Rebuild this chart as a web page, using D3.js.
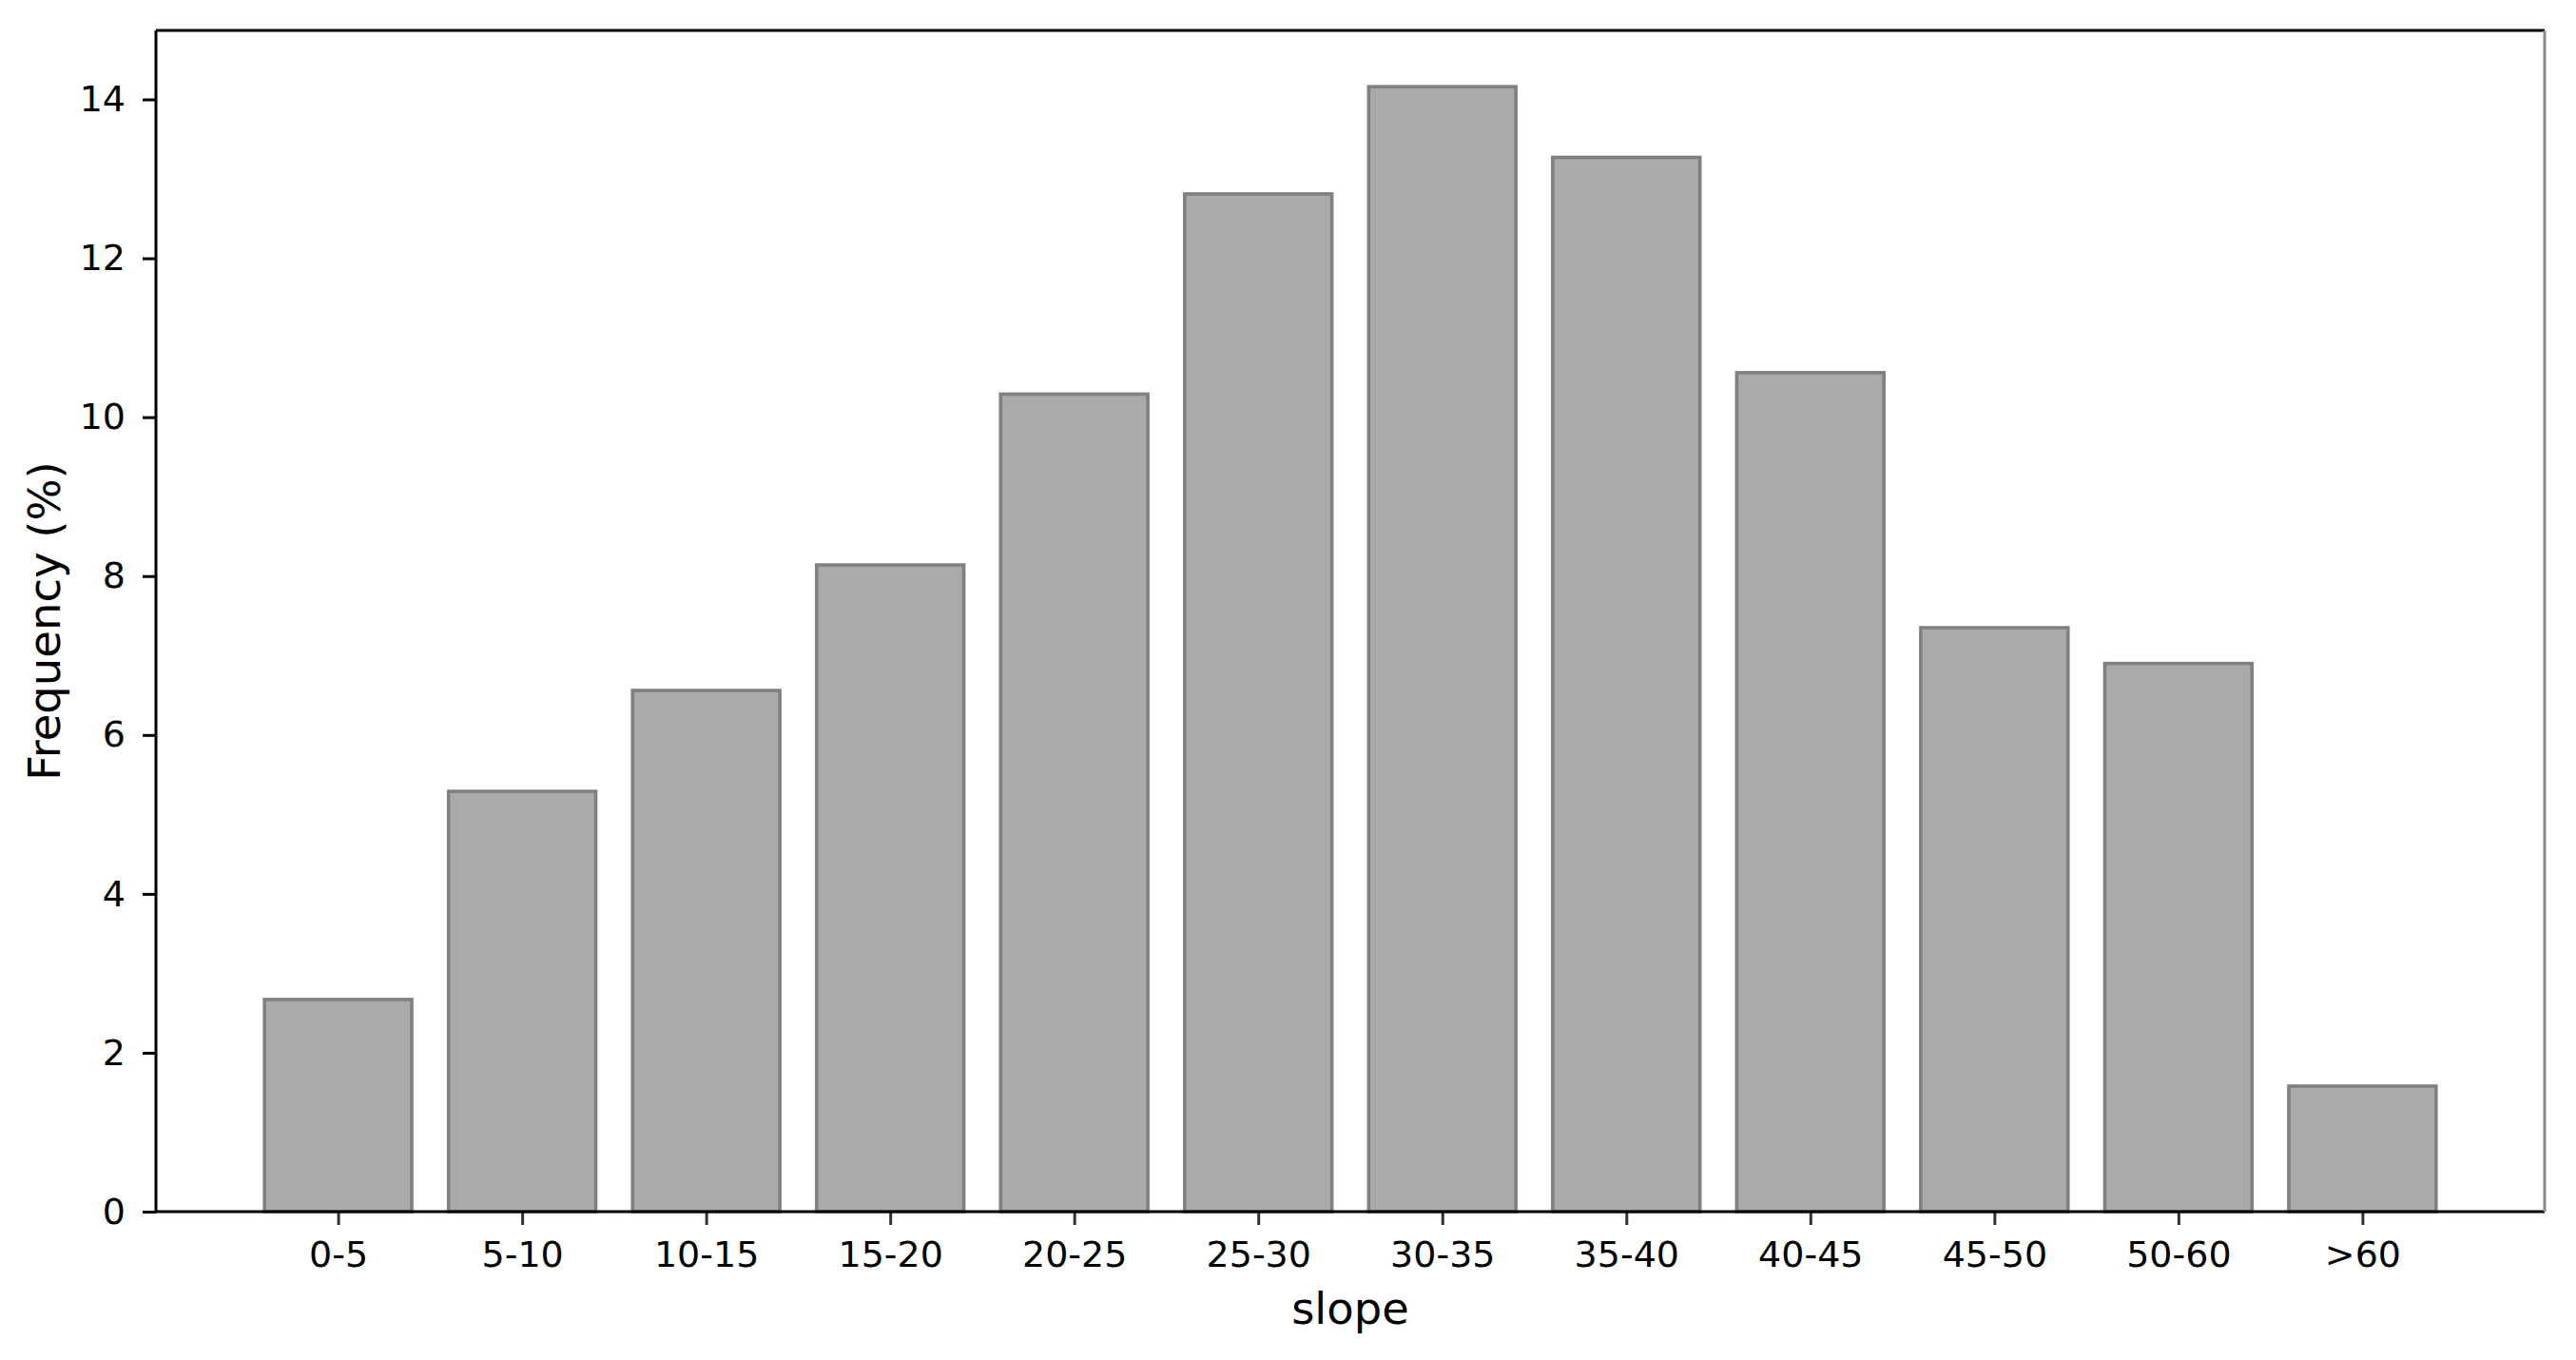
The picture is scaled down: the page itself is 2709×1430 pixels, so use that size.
<!DOCTYPE html>
<html>
<head>
<meta charset="utf-8">
<script src="https://cdn.jsdelivr.net/npm/d3@7/dist/d3.min.js"></script>
<style>
  html, body { margin: 0; padding: 0; background: #fff; }
  svg { display: block; }
  text { font-family: "DejaVu Sans", sans-serif; fill: #000; }
</style>
</head>
<body>
<svg id="chart" width="2709" height="1430"></svg>
<script>
const categories = ["0-5", "5-10", "10-15", "15-20", "20-25", "25-30", "30-35", "35-40", "40-45", "45-50", "50-60", ">60"];
const frequency = [2.67, 5.29, 6.56, 8.14, 10.29, 12.81, 14.16, 13.27, 10.56, 7.35, 6.90, 1.58];
const yTicks = [0, 2, 4, 6, 8, 10, 12, 14];
const xLabel = "slope";
const yLabel = "Frequency (%)";

const W = 2709, H = 1430;
const m = { left: 164, right: W - 2676, top: 32, bottom: H - 1274 };
const iw = W - m.left - m.right, ih = H - m.top - m.bottom;

const svg = d3.select("#chart");
const g = svg.append("g").attr("transform", `translate(${m.left},${m.top})`);

// linear x scale (matplotlib style: bar width 0.8, 5% margins)
const n = categories.length;
const span = (n - 1) + 0.8;
const pad = span * 0.05;
const x = d3.scaleLinear().domain([-0.4 - pad, n - 1 + 0.4 + pad]).range([0, iw]);
const yMax = d3.max(frequency) * 1.05;
const y = d3.scaleLinear().domain([0, yMax]).range([ih, 0]);

// bars
g.selectAll("rect.bar")
  .data(frequency)
  .join("rect")
  .attr("class", "bar")
  .attr("x", (d, i) => x(i - 0.4))
  .attr("width", (d, i) => x(i + 0.4) - x(i - 0.4))
  .attr("y", d => y(d))
  .attr("height", d => y(0) - y(d))
  .attr("fill", "#aaaaaa")
  .attr("stroke", "#808080")
  .attr("stroke-width", 3.6);

// axes
const fs = 38;
const xAxis = d3.axisBottom(x)
  .tickValues(d3.range(n))
  .tickFormat(i => categories[i])
  .tickSize(14).tickSizeOuter(0).tickPadding(17);
const gx = g.append("g").attr("transform", `translate(0,${ih})`).call(xAxis);
gx.select(".domain").remove();
gx.selectAll(".tick line").attr("stroke", "#333").attr("stroke-width", 3);
gx.selectAll(".tick text").attr("font-size", fs).attr("font-family", "DejaVu Sans").attr("fill", "#000");

const yAxis = d3.axisLeft(y)
  .tickValues(yTicks)
  .tickFormat(d3.format("d"))
  .tickSize(14).tickSizeOuter(0).tickPadding(18);
const gy = g.append("g").call(yAxis);
gy.select(".domain").remove();
gy.selectAll(".tick line").attr("stroke", "#000").attr("stroke-width", 3);
gy.selectAll(".tick text").attr("font-size", fs).attr("font-family", "DejaVu Sans").attr("fill", "#000");

// spines
const sw = 3;
g.append("line").attr("x1", 0).attr("x2", iw).attr("y1", 0).attr("y2", 0).attr("stroke", "#000").attr("stroke-width", sw);
g.append("line").attr("x1", 0).attr("x2", iw).attr("y1", ih).attr("y2", ih).attr("stroke", "#000").attr("stroke-width", sw);
g.append("line").attr("x1", 0).attr("x2", 0).attr("y1", 0).attr("y2", ih).attr("stroke", "#000").attr("stroke-width", sw);
g.append("line").attr("x1", iw).attr("x2", iw).attr("y1", 0).attr("y2", ih).attr("stroke", "#8a8a8a").attr("stroke-width", sw);

// labels
svg.append("text")
  .attr("x", m.left + iw / 2).attr("y", 1392)
  .attr("text-anchor", "middle")
  .attr("font-size", 46.5)
  .text(xLabel);

svg.append("text")
  .attr("transform", `translate(63,${m.top + ih / 2}) rotate(-90)`)
  .attr("text-anchor", "middle")
  .attr("font-size", 46.5)
  .text(yLabel);
</script>
</body>
</html>
